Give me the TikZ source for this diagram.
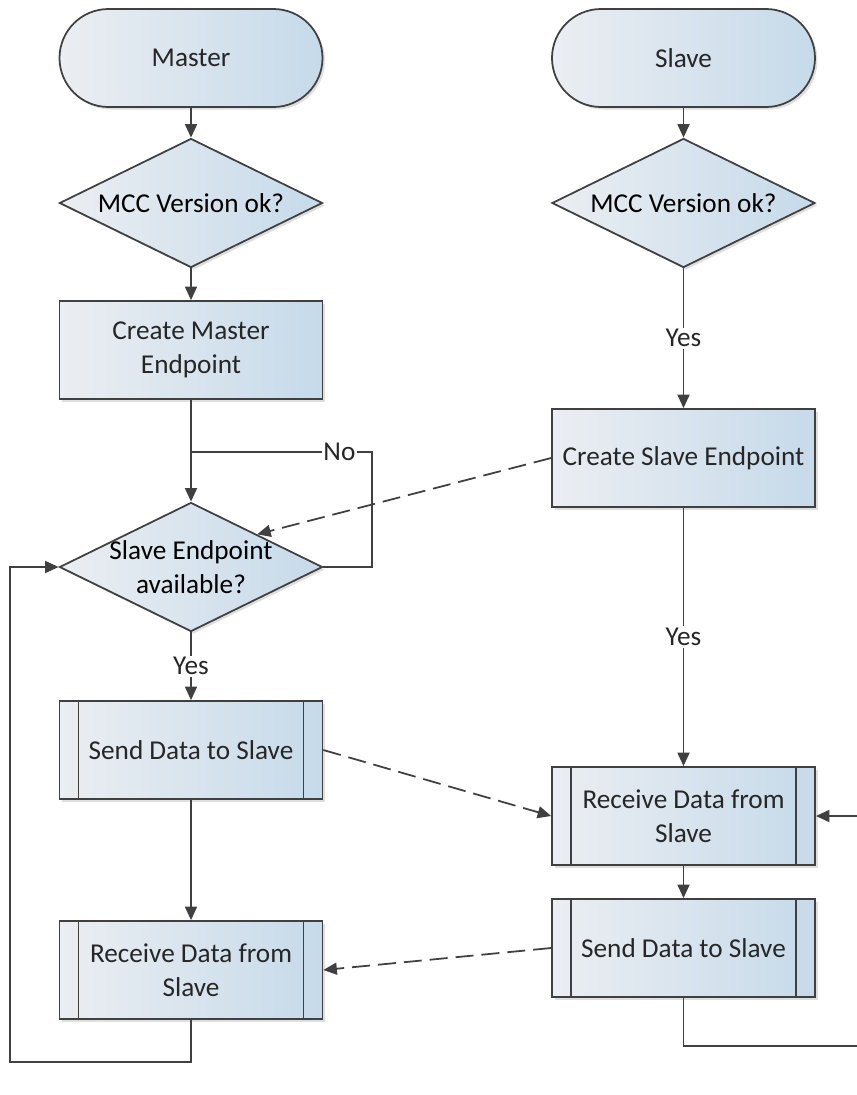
\documentclass[tikz,border=0pt]{standalone}
\usepackage{fontspec}
\setmainfont{Carlito}
\usetikzlibrary{shapes.geometric,arrows.meta,shadows}
\definecolor{boxleft}{RGB}{235,238,242}
\definecolor{boxright}{RGB}{198,218,234}
\definecolor{linegray}{RGB}{64,64,64}
\tikzset{
  box/.style={draw=linegray, line width=1pt, left color=boxleft, right color=boxright,
    minimum width=52.6mm, minimum height=19.6mm, align=center, text=black!85,
    drop shadow={shadow xshift=0.5mm, shadow yshift=-0.5mm, opacity=0.25}},
  term/.style={box, rounded corners=9.8mm},
  dec/.style={box, diamond, aspect=2, inner sep=0pt, minimum height=25.8mm},
  sub/.style={box},
  flow/.style={draw=linegray, line width=1pt, ->},
  async/.style={flow, dash pattern=on 3.6mm off 1.6mm},
  lab/.style={fill=white, inner sep=1pt, text=black!85}
}
\begin{document}
\begin{tikzpicture}[x=0.2mm, y=-0.2mm, >={Triangle[length=2.7mm,width=2.4mm]},
  font=\fontsize{15.5}{19.5}\selectfont]
\useasboundingbox (0,0) rectangle (857,1095);

% Master
\node[term] (master) at (191,58) {Master};
\node[dec, label={center:MCC Version ok?}] (mver) at (191,203) {};
\node[box] (mcreate) at (191,350) {Create Master\\Endpoint};
\node[dec, label={[align=center]center:{Slave Endpoint\\available?}}] (avail) at (191,567) {};
\node[sub] (msend) at (191,750) {Send Data to Slave};
\node[sub] (mrecv) at (191,970) {Receive Data from\\Slave};

% Slave
\node[term] (slave) at (683.5,58) {Slave};
\node[dec, label={center:MCC Version ok?}] (sver) at (683.5,203) {};
\node[box] (screate) at (683.5,458) {Create Slave Endpoint};
\node[sub] (srecv) at (683.5,816) {Receive Data from\\Slave};
\node[sub] (ssend) at (683.5,948) {Send Data to Slave};

% side bars
\foreach \n in {msend,mrecv,srecv,ssend} {
  \draw[linegray, line width=1pt] ([xshift=4mm]\n.north west) -- ([xshift=4mm]\n.south west);
  \draw[linegray, line width=1pt] ([xshift=-4mm]\n.north east) -- ([xshift=-4mm]\n.south east);
}

\coordinate (nojoin) at (191,452);
\coordinate (nocorner) at (372,452);
\coordinate (loopL) at (10,1062);
\coordinate (loopR) at (857,1046);
\coordinate (loopRin) at (857,816);

% Relations
\draw[flow] (master) -- (mver);
\draw[flow] (mver) -- (mcreate);
\draw[flow] (mcreate) -- (avail);
\draw[draw=linegray, line width=1pt] (avail.east) -| (nocorner) -- node[lab, pos=.18] {No} (nojoin);
\draw[flow] (avail) -- node[lab] {Yes} (msend);
\draw[flow] (msend) -- (mrecv);
\draw[flow] (mrecv.south) |- (loopL) |- (avail.west);

\draw[flow] (slave) -- (sver);
\draw[flow] (sver) -- node[lab] {Yes} (screate);
\draw[flow] (screate) -- node[lab] {Yes} (srecv);
\draw[flow] (srecv) -- (ssend);
\draw[draw=linegray, line width=1pt] (ssend.south) |- (loopR);
\draw[flow] (loopRin) -- (srecv.east);

\draw[async] (screate.west) -- (avail.north east);
\draw[async] (msend.east) -- (srecv.west);
\draw[async] (ssend.west) -- (mrecv.east);

\end{tikzpicture}
\end{document}
